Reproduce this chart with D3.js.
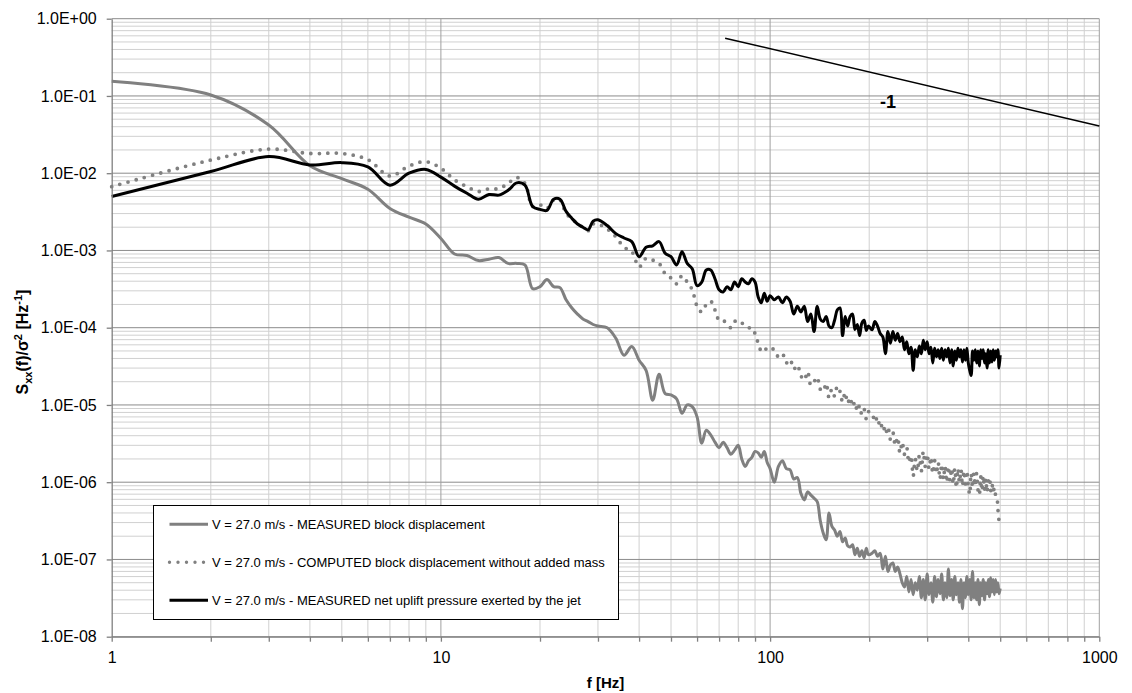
<!DOCTYPE html>
<html><head><meta charset="utf-8">
<script src="https://cdn.jsdelivr.net/npm/d3@7"></script>
<style>
body{margin:0;background:#fff}
svg{display:block}
text{font-family:"Liberation Sans",Arial,sans-serif}
</style>
</head><body>
<svg id="c" width="1132" height="693"></svg>
<script>
// ---------------- DATA ----------------
const freq = [1,2,3,4,5,6,7,8,9,10,11,12,13,14,15,16,17,18,19,20,21,22,23,24,25,26,27,28,29,30,
32,34,36,38,40,42,44,46,48,50,52,54,56,58,60,62,64,66,68,70,72,74,76,78,80,82,84,86,88,90,92,94,96,98,100,
103,106,109,112,115,118,121,124,127,130,133,136,139,142,145,148,151,154,157,160,163,166,169,172,175,178,181,184,187,190,193,196,199,
204,208,212,216,220,224,228,232,236,240,244,248,252,256,260,264,268,272,276,280,
284,288,292,296,300,304,308,312,316,320,324,328,332,336,340,344,348,352,356,360,
364,368,372,376,380,384,388,392,396,400,404,408,412,416,420,424,428,432,436,440,
444,448,452,456,460,464,468,472,476,480,484,488,492,496,500];

// V = 27.0 m/s - MEASURED block displacement
const measured = [0.155,0.103,0.042,0.0125,0.0085,0.0062,0.0035,0.0027,0.0022,0.00143,9.0e-4,8.6e-4,7.4e-4,7.7e-4,8.1e-4,6.8e-4,6.8e-4,6.5e-4,3.2e-4,3.4e-4,4.2e-4,3.4e-4,3.3e-4,2.3e-4,1.8e-4,1.5e-4,1.3e-4,1.2e-4,1.1e-4,1.05e-4,
1.0e-4,7.3e-5,4.4e-5,5.7e-5,3.8e-5,2.8e-5,1.15e-5,2.5e-5,1.4e-5,1.35e-5,1.2e-5,7.8e-6,1.0e-5,9.5e-6,7.0e-6,3.2e-6,4.7e-6,4.1e-6,3.3e-6,2.8e-6,3.3e-6,2.8e-6,2.3e-6,2.6e-6,3.0e-6,2.0e-6,1.6e-6,1.9e-6,2.1e-6,2.5e-6,2.4e-6,2.1e-6,2.5e-6,1.8e-6,1.5e-6,
1.0e-6,1.6e-6,1.9e-6,1.5e-6,1.45e-6,1.1e-6,1.15e-6,7.2e-7,5.9e-7,7.5e-7,6.8e-7,6.2e-7,5.6e-7,3.2e-7,2.2e-7,1.8e-7,4.0e-7,2.7e-7,2.4e-7,2.0e-7,2.3e-7,1.7e-7,1.9e-7,1.5e-7,1.45e-7,1.55e-7,1.15e-7,1.4e-7,1.1e-7,1.3e-7,1.05e-7,1.4e-7,1.15e-7,
1.2e-7,1.3e-7,1.1e-7,1.2e-7,7.5e-8,1.1e-7,7.0e-8,8.5e-8,9.0e-8,7.0e-8,8.0e-8,6.5e-8,5.0e-8,4.4e-8,6.0e-8,3.8e-8,5.5e-8,3.5e-8,5.0e-8,4.0e-8,
6.0e-8,3.2e-8,5.5e-8,3.0e-8,6.5e-8,3.5e-8,5.0e-8,2.8e-8,6.0e-8,3.3e-8,5.5e-8,3.6e-8,6.5e-8,3.0e-8,5.0e-8,3.2e-8,7.5e-8,3.4e-8,5.5e-8,3.0e-8,
6.0e-8,3.5e-8,5.0e-8,2.8e-8,5.5e-8,2.3e-8,5.0e-8,3.2e-8,6.0e-8,3.5e-8,5.5e-8,3.0e-8,7.0e-8,3.2e-8,5.0e-8,3.0e-8,5.5e-8,2.6e-8,5.0e-8,3.4e-8,
5.5e-8,3.0e-8,5.0e-8,3.6e-8,5.5e-8,3.3e-8,5.8e-8,3.8e-8,5.5e-8,3.5e-8,5.5e-8,3.8e-8,5.0e-8,3.6e-8,4.2e-8];

// V = 27.0 m/s - COMPUTED block displacement without added mass
const computed = [6.7e-3,0.0148,0.0205,0.018,0.018,0.015,9.2e-3,0.0124,0.0141,0.0116,8.2e-3,6.7e-3,5.8e-3,6.3e-3,6.3e-3,7.4e-3,8.8e-3,7.4e-3,3.7e-3,3.9e-3,3.5e-3,4.5e-3,4.5e-3,3.0e-3,2.6e-3,2.2e-3,2.0e-3,1.8e-3,2.2e-3,2.2e-3,
1.9e-3,1.5e-3,1.1e-3,9.7e-4,6.1e-4,7.9e-4,7.5e-4,6.8e-4,5.0e-4,4.4e-4,3.7e-4,4.7e-4,3.9e-4,3.1e-4,1.9e-4,1.6e-4,2.0e-4,2.2e-4,1.7e-4,1.25e-4,1.25e-4,1.1e-4,1.0e-4,1.2e-4,1.25e-4,1.15e-4,1.1e-4,1.0e-4,1.0e-4,8.4e-5,6.3e-5,5.0e-5,4.9e-5,5.6e-5,5.4e-5,
5.2e-5,4.2e-5,4.6e-5,3.5e-5,3.9e-5,2.9e-5,3.3e-5,2.4e-5,2.1e-5,2.7e-5,1.8e-5,2.0e-5,2.3e-5,1.6e-5,1.5e-5,1.9e-5,1.25e-5,1.6e-5,1.3e-5,1.75e-5,1.5e-5,1.1e-5,1.45e-5,1.05e-5,1.25e-5,9.5e-6,1.1e-5,8.3e-6,9.8e-6,7.5e-6,8.8e-6,6.6e-6,8.2e-6,
7.9e-6,6.0e-6,7.0e-6,5.0e-6,5.8e-6,4.2e-6,5.2e-6,3.6e-6,4.4e-6,3.0e-6,3.8e-6,2.4e-6,3.3e-6,2.3e-6,2.8e-6,1.8e-6,2.2e-6,1.2e-6,2.0e-6,1.4e-6,
2.2e-6,1.4e-6,2.5e-6,1.6e-6,2.3e-6,1.5e-6,2.1e-6,1.3e-6,1.9e-6,1.3e-6,1.8e-6,1.1e-6,1.7e-6,1.1e-6,1.6e-6,1.0e-6,1.6e-6,1.05e-6,1.5e-6,9.5e-7,
1.5e-6,8.5e-7,1.5e-6,1.0e-6,1.45e-6,9.0e-7,1.4e-6,9.5e-7,1.4e-6,9.0e-7,7.0e-7,1.3e-6,8.5e-7,1.3e-6,9.0e-7,1.3e-6,8.0e-7,6.8e-7,1.2e-6,7.8e-7,
1.2e-6,8.0e-7,1.1e-6,7.5e-7,1.05e-6,1.15e-6,7.8e-7,9.5e-7,7.5e-7,8.5e-7,6.9e-7,6.6e-7,4.5e-7,3.2e-7,2.9e-7];

// V = 27.0 m/s - MEASURED net uplift pressure exerted by the jet
const uplift = [5.0e-3,0.0105,0.0164,0.0128,0.0137,0.0121,7.0e-3,0.0100,0.0112,8.9e-3,6.8e-3,5.5e-3,4.6e-3,5.3e-3,5.2e-3,6.0e-3,7.5e-3,7.0e-3,3.7e-3,3.4e-3,3.3e-3,4.6e-3,4.6e-3,3.2e-3,2.6e-3,2.2e-3,2.0e-3,1.85e-3,2.4e-3,2.5e-3,
2.1e-3,1.65e-3,1.45e-3,1.3e-3,8.3e-4,1.1e-3,1.15e-3,1.3e-3,9.2e-4,8.3e-4,6.5e-4,9.6e-4,6.8e-4,5.8e-4,3.5e-4,3.9e-4,5.6e-4,5.6e-4,4.3e-4,3.1e-4,2.9e-4,3.4e-4,3.1e-4,3.9e-4,3.4e-4,4.3e-4,3.9e-4,3.7e-4,4.3e-4,3.9e-4,2.5e-4,2.1e-4,2.8e-4,2.2e-4,2.6e-4,
2.3e-4,2.5e-4,2.1e-4,2.5e-4,2.2e-4,1.5e-4,1.9e-4,1.6e-4,1.9e-4,1.2e-4,1.5e-4,8.9e-5,1.9e-4,1.3e-4,1.2e-4,1.4e-4,1.05e-4,1.0e-4,1.25e-4,1.7e-4,1.8e-4,7.9e-5,1.4e-4,1.05e-4,1.4e-4,1.5e-4,9.5e-5,1.1e-4,7.9e-5,1.15e-4,1.25e-4,9.2e-5,1.05e-4,
9.4e-5,1.2e-4,1.05e-4,8.4e-5,7.6e-5,4.6e-5,8.9e-5,6.3e-5,8.9e-5,6.9e-5,8.4e-5,6.6e-5,7.6e-5,5.2e-5,6.6e-5,4.6e-5,5.6e-5,2.8e-5,5.2e-5,4.2e-5,
5.8e-5,4.6e-5,6.9e-5,5.2e-5,6.6e-5,4.6e-5,5.6e-5,3.5e-5,5.4e-5,4.2e-5,5.2e-5,4.0e-5,5.4e-5,3.8e-5,5.2e-5,4.2e-5,5.4e-5,3.5e-5,5.2e-5,3.2e-5,
5.0e-5,3.8e-5,5.4e-5,4.2e-5,5.2e-5,3.6e-5,5.2e-5,3.8e-5,5.4e-5,3.5e-5,2.8e-5,2.4e-5,5.0e-5,3.8e-5,5.2e-5,3.5e-5,5.0e-5,3.2e-5,5.2e-5,4.0e-5,
5.2e-5,3.5e-5,4.6e-5,3.0e-5,5.2e-5,3.5e-5,5.0e-5,3.6e-5,5.2e-5,3.8e-5,5.0e-5,4.2e-5,5.2e-5,3.0e-5,4.4e-5];

// slope "-1" reference line
const slopeF = [73, 1000];
const slopeS = [0.56, 0.0408];
const slopeLabel = "-1";

const xMajorTicks = [1, 10, 100, 1000];
const xTickLabels = ["1", "10", "100", "1000"];
const yMajorTicks = [1, 1e-1, 1e-2, 1e-3, 1e-4, 1e-5, 1e-6, 1e-7, 1e-8];
const yTickLabels = ["1.0E+00","1.0E-01","1.0E-02","1.0E-03","1.0E-04","1.0E-05","1.0E-06","1.0E-07","1.0E-08"];
const seriesNames = [
  "V = 27.0 m/s - MEASURED block displacement",
  "V = 27.0 m/s - COMPUTED block displacement without added mass",
  "V = 27.0 m/s - MEASURED net uplift pressure exerted by the jet"
];

// ---------------- CHART ----------------
const L = 111.7, R = 1099.3, T = 18.7, B = 636.7;
const svg = d3.select('#c');
const x = d3.scaleLog().domain([1, 1000]).range([L, R]);
const y = d3.scaleLog().domain([1e-8, 1]).range([B, T]);

const xMinor = [], yMinor = [];
for (let d = 1; d < 1000; d *= 10) for (let m = 2; m <= 9; m++) xMinor.push(m * d);
for (let e = -8; e < 0; e++) for (let m = 2; m <= 9; m++) yMinor.push(m * Math.pow(10, e));

const grid = svg.append('g');
grid.selectAll('line.hm').data(yMinor).join('line')
  .attr('x1', L).attr('x2', R).attr('y1', d => y(d)).attr('y2', d => y(d))
  .attr('stroke', '#d0d0d0').attr('stroke-width', 1);
grid.selectAll('line.vm').data(xMinor).join('line')
  .attr('y1', T).attr('y2', B).attr('x1', d => x(d)).attr('x2', d => x(d))
  .attr('stroke', '#d0d0d0').attr('stroke-width', 1);
grid.selectAll('line.hM').data(yMajorTicks).join('line')
  .attr('x1', L).attr('x2', R).attr('y1', d => y(d)).attr('y2', d => y(d))
  .attr('stroke', '#8c8c8c').attr('stroke-width', 1);
grid.selectAll('line.vM').data(xMajorTicks.slice(1)).join('line')
  .attr('y1', T).attr('y2', B).attr('x1', d => x(d)).attr('x2', d => x(d))
  .attr('stroke', '#a0a0a0').attr('stroke-width', 1);

const line = d3.line().x(d => x(d[0])).y(d => y(d[1])).curve(d3.curveCatmullRom.alpha(0.5));

svg.append('path').datum(d3.zip(freq, measured)).attr('d', line)
  .attr('fill', 'none').attr('stroke', '#808080').attr('stroke-width', 3).attr('stroke-linejoin', 'round');
svg.append('path').datum(d3.zip(freq, computed)).attr('d', line)
  .attr('fill', 'none').attr('stroke', '#808080').attr('stroke-width', 3.8)
  .attr('stroke-linecap', 'round').attr('stroke-dasharray', '0 8.5');
svg.append('path').datum(d3.zip(freq, uplift)).attr('d', line)
  .attr('fill', 'none').attr('stroke', '#000').attr('stroke-width', 3).attr('stroke-linejoin', 'round');

// slope line
svg.append('path').datum(d3.zip(slopeF, slopeS)).attr('d', d3.line().x(d => x(d[0])).y(d => y(d[1])))
  .attr('fill', 'none').attr('stroke', '#000').attr('stroke-width', 1.5);
svg.append('text').attr('x', 888).attr('y', 108).attr('text-anchor', 'middle')
  .attr('font-size', 18).attr('font-weight', 'bold').text(slopeLabel);

// axes
const yAxis = d3.axisLeft(y).tickValues(yMajorTicks).tickFormat((d, i) => yTickLabels[i])
  .tickSize(5).tickSizeOuter(0).tickPadding(10);
const ya = svg.append('g').attr('transform', `translate(${L},0)`).call(yAxis);
const xAll = xMinor.concat(xMajorTicks).sort((a, b) => a - b);
const xAxis = d3.axisBottom(x).tickValues(xAll)
  .tickFormat(d => { const i = xMajorTicks.indexOf(d); return i >= 0 ? xTickLabels[i] : ''; })
  .tickSize(5).tickSizeOuter(0).tickPadding(10);
const xa = svg.append('g').attr('transform', `translate(0,${B})`).call(xAxis);
[ya, xa].forEach(a => {
  a.attr('font-family', null).attr('font-size', null);
  a.select('.domain').attr('stroke', '#808080').attr('stroke-width', 1.3);
  a.selectAll('.tick line').attr('stroke', '#808080').attr('stroke-width', 1.3);
  a.selectAll('.tick text').attr('font-size', 16).attr('fill', '#000')
    .style('font-family', '"Liberation Sans",Arial,sans-serif');
});

// axis titles
svg.append('text').attr('x', (L + R) / 2).attr('y', 688).attr('text-anchor', 'middle')
  .attr('font-size', 15).attr('font-weight', 'bold').text('f [Hz]');
const yt = svg.append('text').attr('transform', 'translate(27.5,342) rotate(-90)')
  .attr('text-anchor', 'middle').attr('font-size', 16).attr('font-weight', 'bold');
yt.append('tspan').text('S');
yt.append('tspan').attr('dy', 4).attr('font-size', 11).text('xx');
yt.append('tspan').attr('dy', -4).text('(f)/σ');
yt.append('tspan').attr('dy', -6).attr('font-size', 11).text('2');
yt.append('tspan').attr('dy', 6).text(' [Hz');
yt.append('tspan').attr('dy', -6).attr('font-size', 11).text('-1');
yt.append('tspan').attr('dy', 6).text(']');

// legend
const lg = svg.append('g');
lg.append('rect').attr('x', 153.5).attr('y', 505.5).attr('width', 465).attr('height', 114)
  .attr('fill', '#fff').attr('stroke', '#000').attr('stroke-width', 1);
const rows = [524.3, 562.3, 600.3];
const styles = [
  {stroke: '#808080', w: 3, dash: null, cap: 'butt'},
  {stroke: '#808080', w: 3.4, dash: '0 8.5', cap: 'round'},
  {stroke: '#000', w: 3, dash: null, cap: 'butt'}
];
seriesNames.forEach((n, i) => {
  lg.append('line').attr('x1', 169.5).attr('x2', 208).attr('y1', rows[i]).attr('y2', rows[i])
    .attr('stroke', styles[i].stroke).attr('stroke-width', styles[i].w)
    .attr('stroke-dasharray', styles[i].dash).attr('stroke-linecap', styles[i].cap);
  lg.append('text').attr('x', 212).attr('y', rows[i] + 4.6).attr('font-size', 13).attr('fill', '#000').text(n);
});
</script>
</body></html>
